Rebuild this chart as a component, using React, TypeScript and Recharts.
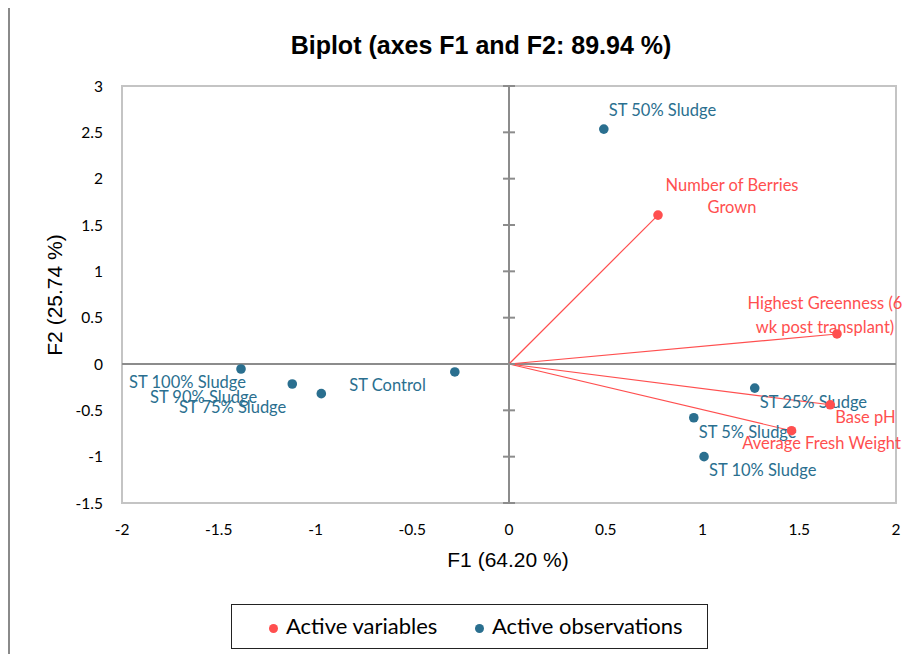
import React from 'react';
import {
  ScatterChart,
  Scatter,
  XAxis,
  YAxis,
  ReferenceLine,
  ReferenceDot,
  ReferenceArea,
} from 'recharts';

// ---- data ----
const seriesNames = ['Active variables', 'Active observations'];

const obsNames = [
  'ST 50% Sludge',
  'ST 100% Sludge',
  'ST 90% Sludge',
  'ST 75% Sludge',
  'ST Control',
  'ST 25% Sludge',
  'ST 5% Sludge',
  'ST 10% Sludge',
];
const obsF1 = [0.49, -1.385, -1.12, -0.97, -0.28, 1.27, 0.955, 1.008];
const obsF2 = [2.535, -0.054, -0.216, -0.32, -0.086, -0.26, -0.58, -1.0];

const varNames = [
  'Number of Berries Grown',
  'Highest Greenness (6 wk post transplant)',
  'Base pH',
  'Average Fresh Weight',
];
const varF1 = [0.77, 1.695, 1.66, 1.46];
const varF2 = [1.607, 0.324, -0.44, -0.72];

const xTicks = [-2, -1.5, -1, -0.5, 0, 0.5, 1, 1.5, 2];
const yTicks = [-1.5, -1, -0.5, 0, 0.5, 1, 1.5, 2, 2.5, 3];

// ---- styling / label layout ----
const RED = '#FF4F4F';
const BLUE = '#2A6F8F';
const LABEL_FONT = 'Lato, "Open Sans", sans-serif';
const ARIAL = '"Liberation Sans", Arial, sans-serif';

type LabelLayout = { anchor: 'start' | 'middle' | 'end'; dx: number; dy: number[]; lines: string[] };

const labelLayout: Record<string, LabelLayout> = {
  'ST 50% Sludge': { anchor: 'start', dx: 5, dy: [-19], lines: ['ST 50% Sludge'] },
  'ST 100% Sludge': { anchor: 'end', dx: 5, dy: [13], lines: ['ST 100% Sludge'] },
  'ST 90% Sludge': { anchor: 'end', dx: -35, dy: [13], lines: ['ST 90% Sludge'] },
  'ST 75% Sludge': { anchor: 'end', dx: -35, dy: [13], lines: ['ST 75% Sludge'] },
  'ST Control': { anchor: 'end', dx: -29, dy: [13], lines: ['ST Control'] },
  'ST 25% Sludge': { anchor: 'start', dx: 5, dy: [14], lines: ['ST 25% Sludge'] },
  'ST 5% Sludge': { anchor: 'start', dx: 5, dy: [14], lines: ['ST 5% Sludge'] },
  'ST 10% Sludge': { anchor: 'start', dx: 5, dy: [13], lines: ['ST 10% Sludge'] },
  'Number of Berries Grown': {
    anchor: 'middle',
    dx: 74,
    dy: [-30, -8],
    lines: ['Number of Berries', 'Grown'],
  },
  'Highest Greenness (6 wk post transplant)': {
    anchor: 'middle',
    dx: -12,
    dy: [-31, -7],
    lines: ['Highest Greenness (6', 'wk post transplant)'],
  },
  'Base pH': { anchor: 'start', dx: 5, dy: [12], lines: ['Base pH'] },
  'Average Fresh Weight': { anchor: 'middle', dx: 30, dy: [12], lines: ['Average Fresh Weight'] },
};

const obsData = obsNames.map((name, i) => ({ name, f1: obsF1[i], f2: obsF2[i] }));
const varData = varNames.map((name, i) => ({ name, f1: varF1[i], f2: varF2[i] }));

const makeShape = (color: string) => (props: any) => {
  const { cx, cy, payload } = props;
  const lay = labelLayout[payload.name];
  return (
    <g>
      <circle cx={cx} cy={cy} r={4.8} fill={color} />
      {lay &&
        lay.lines.map((ln, k) => (
          <text
            key={k}
            x={cx + lay.dx}
            y={cy + lay.dy[k]}
            textAnchor={lay.anchor}
            dominantBaseline="central"
            fill={color}
            fontFamily={LABEL_FONT}
            fontSize={16.5}
          >
            {ln}
          </text>
        ))}
    </g>
  );
};

const AxisTick = (props: any) => {
  const { cx, cy } = props;
  return <line x1={cx - 6} x2={cx + 6} y1={cy} y2={cy} stroke="#8C8C8C" strokeWidth={2} />;
};

export default function App() {
  return (
    <div
      style={{
        position: 'relative',
        width: 918,
        height: 662,
        margin: -8,
        background: '#fff',
        overflow: 'hidden',
      }}
    >
      <div
        style={{
          position: 'absolute',
          left: 8,
          top: 5,
          width: 920,
          height: 670,
          borderLeft: '2px solid #8A8A8A',
          borderTop: '2px solid #8A8A8A',
        }}
      />
      <div
        style={{
          position: 'absolute',
          left: 0,
          top: 30,
          width: 962,
          textAlign: 'center',
          fontFamily: ARIAL,
          fontWeight: 'bold',
          fontSize: 25,
          color: '#000',
          lineHeight: '30px',
        }}
      >
        Biplot (axes F1 and F2: 89.94 %)
      </div>
      <div style={{ position: 'absolute', left: 0, top: 0 }}>
        <ScatterChart
          width={918}
          height={662}
          margin={{ top: 86, right: 22, bottom: 129, left: 62 }}
        >
          <XAxis
            type="number"
            dataKey="f1"
            domain={[-2, 2]}
            ticks={xTicks}
            interval={0}
            height={30}
            axisLine={false}
            tickLine={false}
            tickSize={0}
            tickMargin={21}
            tick={{ fill: '#000', fontSize: 15.5, fontFamily: LABEL_FONT }}
          />
          <YAxis
            type="number"
            dataKey="f2"
            domain={[-1.5, 3]}
            ticks={yTicks}
            interval={0}
            width={60}
            axisLine={false}
            tickLine={false}
            tickSize={0}
            tickMargin={19}
            tick={{ fill: '#000', fontSize: 15.5, fontFamily: LABEL_FONT }}
          />
          <ReferenceArea
            x1={-2}
            x2={2}
            y1={-1.5}
            y2={3}
            fill="none"
            stroke="#C4C4C4"
            strokeWidth={2}
            ifOverflow="visible"
          />
          <ReferenceLine y={0} stroke="#8C8C8C" strokeWidth={2} />
          <ReferenceLine x={0} stroke="#8C8C8C" strokeWidth={2} />
          {yTicks.map((t) => (
            <ReferenceDot key={'yt' + t} x={0} y={t} shape={AxisTick} ifOverflow="visible" />
          ))}
          {varData.map((d) => (
            <ReferenceLine
              key={'seg' + d.name}
              segment={[
                { x: 0, y: 0 },
                { x: d.f1, y: d.f2 },
              ]}
              stroke={RED}
              strokeWidth={1.2}
            />
          ))}
          <Scatter
            name={seriesNames[1]}
            data={obsData}
            fill={BLUE}
            shape={makeShape(BLUE)}
            isAnimationActive={false}
          />
          <Scatter
            name={seriesNames[0]}
            data={varData}
            fill={RED}
            shape={makeShape(RED)}
            isAnimationActive={false}
          />
        </ScatterChart>
      </div>
      {/* axis titles */}
      <div
        style={{
          position: 'absolute',
          left: 408,
          width: 200,
          top: 547,
          textAlign: 'center',
          fontFamily: ARIAL,
          fontSize: 21,
          lineHeight: '26px',
          color: '#000',
        }}
      >
        F1 (64.20 %)
      </div>
      <div
        style={{
          position: 'absolute',
          left: 55 - 100,
          top: 295 - 13,
          width: 200,
          height: 26,
          textAlign: 'center',
          fontFamily: ARIAL,
          fontSize: 21,
          lineHeight: '26px',
          color: '#000',
          transform: 'rotate(-90deg)',
          transformOrigin: '100px 13px',
        }}
      >
        F2 (25.74 %)
      </div>
      {/* legend */}
      <div
        style={{
          position: 'absolute',
          left: 231,
          top: 604,
          width: 475,
          height: 43,
          border: '1px solid #222',
          boxSizing: 'content-box',
        }}
      >
        {[
          { name: seriesNames[0], color: RED, dotX: 41, textX: 54 },
          { name: seriesNames[1], color: BLUE, dotX: 247, textX: 260 },
        ].map((e) => (
          <React.Fragment key={e.name}>
            <div
              style={{
                position: 'absolute',
                left: e.dotX - 4.5,
                top: 23 - 4.5,
                width: 9,
                height: 9,
                borderRadius: '50%',
                background: e.color,
              }}
            />
            <div
              style={{
                position: 'absolute',
                left: e.textX,
                top: 7,
                fontFamily: LABEL_FONT,
                fontSize: 22,
                lineHeight: '28px',
                color: '#000',
                whiteSpace: 'nowrap',
              }}
            >
              {e.name}
            </div>
          </React.Fragment>
        ))}
      </div>
    </div>
  );
}
